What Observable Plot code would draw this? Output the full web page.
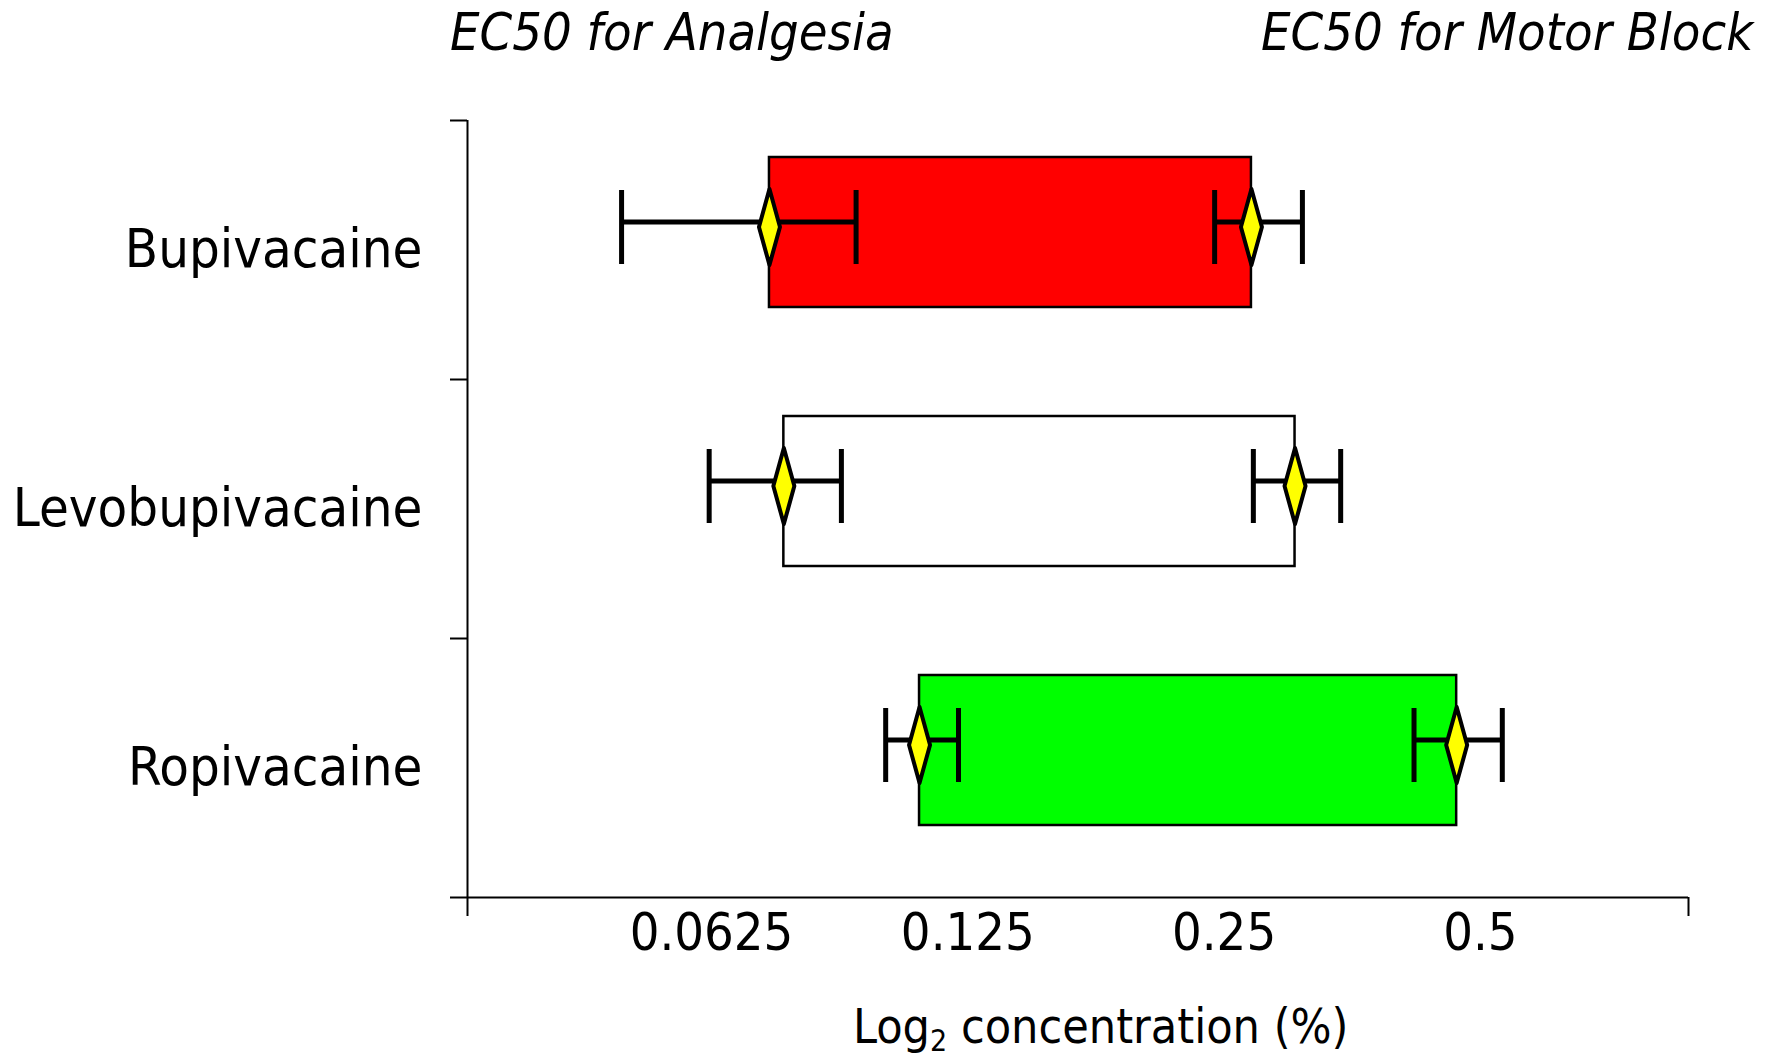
<!DOCTYPE html>
<html>
<head>
<meta charset="utf-8">
<script src="https://cdn.jsdelivr.net/npm/d3@7"></script>
<script src="https://cdn.jsdelivr.net/npm/@observablehq/plot@0.6"></script>
<style>
  body { margin: 0; background: #fff; }
  #wrap { position: relative; width: 1773px; height: 1058px; font-family: "DejaVu Sans Condensed", "DejaVu Sans", sans-serif; color: #000; }
  .title { position: absolute; top: 6px; font-style: italic; font-size: 52px; line-height: 1; white-space: nowrap; }
  #xlabel { position: absolute; top: 1002px; left: 853px; font-size: 48px; line-height: 1; white-space: nowrap; }
  #xlabel sub { font-size: 30px; vertical-align: -8px; line-height: 0; }
  #chart { position: absolute; top: 100px; left: 0; }
</style>
</head>
<body>
<div id="wrap">
  <div class="title" style="left:450px">EC50 for Analgesia</div>
  <div class="title" style="left:1261px">EC50 for Motor Block</div>
  <div id="chart"></div>
  <div id="xlabel">Log<sub>2</sub> concentration (%)</div>
</div>
<script>
// ---- data ----
const categories = ["Bupivacaine", "Levobupivacaine", "Ropivacaine"];
const analgesiaEC50 = [0.0731, 0.0760, 0.1097];
const analgesiaLow  = [0.0490, 0.0621, 0.1001];
const analgesiaHigh = [0.0924, 0.0888, 0.1219];
const motorEC50 = [0.2692, 0.3029, 0.4690];
const motorLow  = [0.2437, 0.2706, 0.4179];
const motorHigh = [0.3090, 0.3427, 0.5306];
const xTickValues = [0.0625, 0.125, 0.25, 0.5];
const xDomain = [0.0323, 0.878];
const barColors = ["#ff0000", "#ffffff", "#00ff00"];

// ---- tables built from the arrays ----
const rows = categories.map((c, i) => ({
  cat: c, i, pos: i + 0.5,
  aE: analgesiaEC50[i], aL: analgesiaLow[i], aH: analgesiaHigh[i],
  mE: motorEC50[i], mL: motorLow[i], mH: motorHigh[i]
}));
const ests = rows.flatMap(r => [
  {pos: r.pos, est: r.aE, lo: r.aL, hi: r.aH},
  {pos: r.pos, est: r.mE, lo: r.mL, hi: r.mH}
]);
const caps = ests.flatMap(e => [{pos: e.pos, x: e.lo}, {pos: e.pos, x: e.hi}]);

const capSymbol = { draw(ctx) { ctx.moveTo(0, -37); ctx.lineTo(0, 37); } };
const diamondSymbol = { draw(ctx) { ctx.moveTo(0, -38); ctx.lineTo(10.5, 0); ctx.lineTo(0, 38); ctx.lineTo(-10.5, 0); ctx.closePath(); } };

const font = "'DejaVu Sans Condensed', 'DejaVu Sans', sans-serif";

const chart = Plot.plot({
  width: 1773,
  height: 958,
  marginTop: 20,
  marginBottom: 161,
  marginLeft: 467,
  marginRight: 85,
  style: { fontFamily: font, fontSize: "52px", background: "white", color: "black", overflow: "visible" },
  x: { type: "log", base: 2, domain: xDomain },
  y: { domain: [0, 3], reverse: true },
  color: { domain: categories, range: barColors },
  marks: [
    Plot.rectX(rows, {
      x1: "aE", x2: "mE", y1: "i", y2: d => d.i + 1,
      fill: d => d.cat, stroke: "black", strokeWidth: 2.5,
      insetTop: 37, insetBottom: 72
    }),
    Plot.ruleY(ests, { y: "pos", x1: "lo", x2: "hi", stroke: "black", strokeWidth: 5, dy: -28 }),
    Plot.dot(caps, { x: "x", y: "pos", symbol: capSymbol, stroke: "black", strokeWidth: 5, fill: "none", dy: -23 }),
    Plot.dot(ests, { x: "est", y: "pos", symbol: diamondSymbol, fill: "#ffff00", stroke: "black", strokeWidth: 4, strokeLinejoin: "round", dy: -23 }),
    // axis lines
    Plot.ruleX([xDomain[0]], { stroke: "black", strokeWidth: 2 }),
    Plot.ruleY([3], { stroke: "black", strokeWidth: 2 }),
    // y boundary ticks
    Plot.axisY({ ticks: [0, 1, 2, 3], tickSize: 17, tickFormat: () => "", strokeWidth: 2, label: null }),
    // y category labels
    Plot.axisY({ ticks: rows.map(r => r.pos), tickSize: 0, tickPadding: 45, tickFormat: v => categories[Math.floor(v)], fontSize: 54, label: null }),
    // x end ticks
    Plot.axisX({ ticks: xDomain, tickSize: 19, tickFormat: () => "", strokeWidth: 2, label: null }),
    // x labels
    Plot.axisX({ ticks: xTickValues, tickSize: 0, tickPadding: 16, tickFormat: d => String(d), fontSize: 52, label: null })
  ]
});
document.getElementById("chart").appendChild(chart);
</script>
</body>
</html>
